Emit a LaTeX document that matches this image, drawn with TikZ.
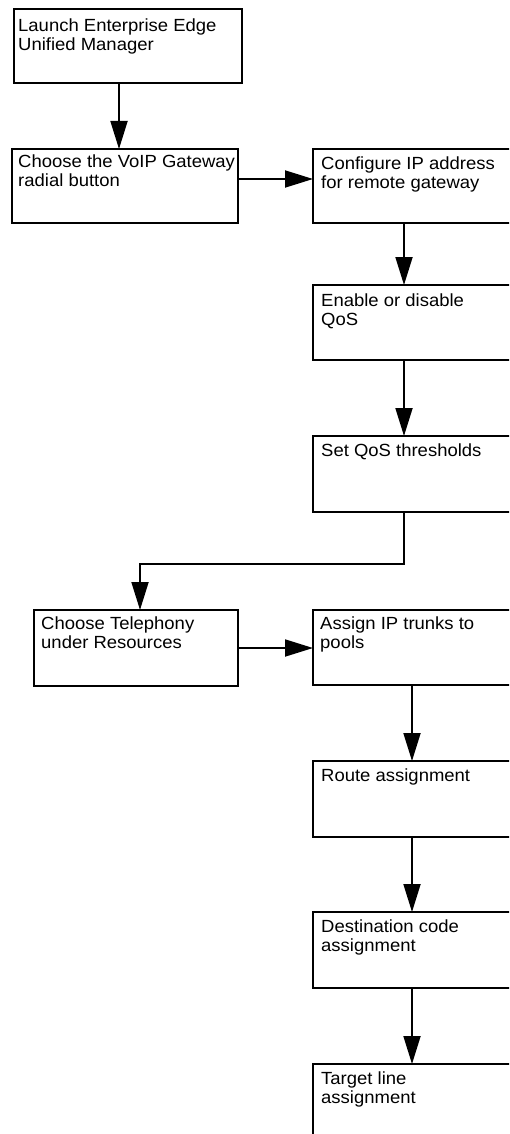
\documentclass[tikz,border=0pt]{standalone}
\usepackage{fontspec}
\setmainfont[FakeStretch=1.05]{Liberation Sans}
\usetikzlibrary{arrows.meta}
\begin{document}
\begin{tikzpicture}[x=1pt,y=-1pt,
  box/.style={draw, line width=1.8pt, rectangle, inner sep=0pt, outer sep=0pt},
  lbl/.style={anchor=north west, inner sep=0pt, align=left, font=\fontsize{17.6}{18.3}\selectfont},
  arr/.style={line width=1.8pt, -{Triangle[length=28pt,width=17pt]}}]
\useasboundingbox (0,0) rectangle (509,1134);
\clip (0,0) rectangle (509,1134);
% boxes
\node[box, minimum width=228, minimum height=74] (b1) at (128,46) {};
\node[box, minimum width=226, minimum height=74] (b2) at (125,186) {};
\node[box, minimum width=202, minimum height=74] (b3) at (414,186) {};
\node[box, minimum width=202, minimum height=75] (b4) at (414,322.5) {};
\node[box, minimum width=202, minimum height=76] (b5) at (414,474) {};
\node[box, minimum width=204, minimum height=76] (b6) at (136,648) {};
\node[box, minimum width=202, minimum height=75] (b7) at (414,647.5) {};
\node[box, minimum width=202, minimum height=76] (b8) at (414,799) {};
\node[box, minimum width=202, minimum height=76] (b9) at (414,950) {};
\node[box, minimum width=202, minimum height=76] (b10) at (414,1102) {};
% labels
\node[lbl] (t1) at ([xshift=4,yshift=-10]b1.north west) {Launch Enterprise Edge\\Unified Manager};
\node[lbl] (t2) at ([xshift=6,yshift=-6]b2.north west) {Choose the VoIP Gateway\\radial button};
\node[lbl] (t3) at ([xshift=8,yshift=-8]b3.north west) {Configure IP address\\for remote gateway};
\node[lbl] (t4) at ([xshift=8,yshift=-9]b4.north west) {Enable or disable\\QoS};
\node[lbl] (t5) at ([xshift=8,yshift=-8]b5.north west) {Set QoS thresholds};
\node[lbl] (t6) at ([xshift=7,yshift=-7]b6.north west) {Choose Telephony\\under Resources};
\node[lbl] (t7) at ([xshift=7,yshift=-7]b7.north west) {Assign IP trunks to\\pools};
\node[lbl] (t8) at ([xshift=8,yshift=-8]b8.north west) {Route assignment};
\node[lbl] (t9) at ([xshift=8,yshift=-8]b9.north west) {Destination code\\assignment};
\node[lbl] (t10) at ([xshift=8,yshift=-8]b10.north west) {Target line\\assignment};
% connectors
\draw[arr] ([xshift=105]b1.south west) -- ([xshift=105]b1.south west |- b2.north);
\draw[arr] ([yshift=7]b2.east) -- ([yshift=7]b2.east -| b3.west);
\draw[arr] ([xshift=91]b3.south west) -- ([xshift=91]b3.south west |- b4.north);
\draw[arr] ([xshift=91]b4.south west) -- ([xshift=91]b4.south west |- b5.north);
\coordinate (e1) at ([xshift=91,yshift=-52]b5.south west);
\draw[arr] ([xshift=91]b5.south west) -- (e1) -| ([xshift=106]b6.north west);
\draw[arr] (b6.east) -- (b6.east -| b7.west);
\draw[arr] ([xshift=99]b7.south west) -- ([xshift=99]b7.south west |- b8.north);
\draw[arr] ([xshift=99]b8.south west) -- ([xshift=99]b8.south west |- b9.north);
\draw[arr] ([xshift=99]b9.south west) -- ([xshift=99]b9.south west |- b10.north);
\end{tikzpicture}
\end{document}
